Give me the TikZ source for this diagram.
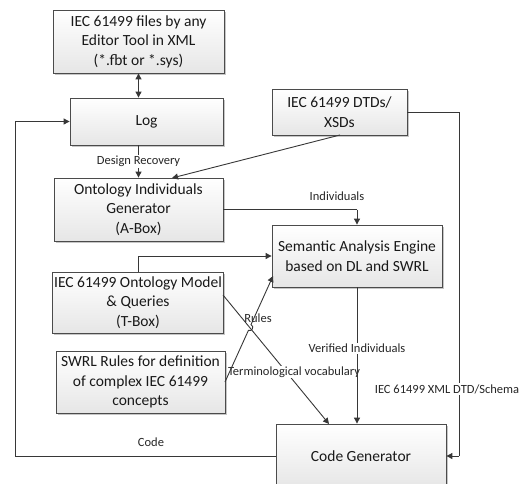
\documentclass[tikz,border=0pt]{standalone}
\usepackage{fontspec}
\setmainfont{Carlito}
\usetikzlibrary{arrows.meta,shadows}
\definecolor{linec}{RGB}{55,55,55}
\definecolor{boxbot}{RGB}{230,230,230}
\definecolor{boxdraw}{RGB}{75,75,75}
\tikzset{
  box/.style={draw=boxdraw, line width=0.8pt, top color=white, bottom color=boxbot,
    drop shadow={shadow xshift=1.6pt, shadow yshift=-1.6pt, fill=gray!45, opacity=1},
    align=center, inner sep=2pt, font=\fontsize{15.5}{19.5}\selectfont, text=black!90},
  conn/.style={draw=linec, line width=0.9pt},
  arr/.style={conn, -{Triangle[length=6pt,width=6pt]}},
  darr/.style={conn, {Triangle[length=6pt,width=6pt]}-{Triangle[length=6pt,width=6pt]}},
  lbl/.style={font=\fontsize{12.5}{14}\selectfont, fill=white, inner sep=1pt, text=black!85},
}
\begin{document}
\begin{tikzpicture}[x=1pt,y=-1pt]
\useasboundingbox (0,0) rectangle (527,483);
\node[box, minimum width=171pt, minimum height=63pt] (files) at (138.5,41.5) {IEC 61499 files by any\\Editor Tool in XML\\(*.fbt or *.sys)};
\node[box, minimum width=153pt, minimum height=47pt] (log) at (146.5,121.5) {Log};
\node[box, minimum width=135pt, minimum height=46pt] (dtd) at (339.5,112) {IEC 61499 DTDs/\\XSDs};
\node[box, minimum width=169pt, minimum height=63pt] (gen) at (138.5,209.5) {Ontology Individuals\\Generator\\(A-Box)};
\node[box, minimum width=170pt, minimum height=62pt] (sem) at (357,256) {Semantic Analysis Engine\\based on DL and SWRL};
\node[box, minimum width=170pt, minimum height=61pt] (onto) at (138,302.5) {IEC 61499 Ontology Model\\\& Queries\\(T-Box)};
\node[box, minimum width=169pt, minimum height=62pt] (swrl) at (140.5,382) {SWRL Rules for definition\\of complex IEC 61499\\concepts};
\node[box, minimum width=170pt, minimum height=64pt] (code) at (361,456) {Code Generator};

\coordinate (cl) at (15,456);
\coordinate (lt) at (15,121.5);
\coordinate (dr) at (459,112);
\coordinate (db) at (459,456);
\coordinate (gi) at (357,209.5);
\coordinate (ot) at (138,256);
\coordinate (dtdb) at (340,135);
\coordinate (gent) at (172,178);
\coordinate (swr) at (225,382);
\coordinate (semr) at (273,276);
\coordinate (ontr) at (223,295);
\coordinate (codet) at (329,424);
\coordinate (jb) at (248.4,330.4);
\coordinate (ja) at (251.0,324.6);
\coordinate (jc1) at (252.1,332.0);
\coordinate (jc2) at (254.7,326.3);

\draw[darr] (files.south) -- (files.south |- log.north);
\draw[arr] (gen.north |- log.south) -- node[lbl] {Design Recovery} (gen.north);
\draw[arr] (dtdb) -- (gent);
\draw[conn] (gen.east) -- (gi);
\draw[arr] (gi) -- (sem.north);
\node[lbl, fill=none] (indl) at (337,196) {Individuals};
\draw[conn] (onto.north) -- (ot);
\draw[arr] (ot) -- (ot -| sem.west);
\draw[arr] (ontr) -- (codet);
\node[lbl] (terml) at (294,372) {Terminological vocabulary};
\draw[arr] (swr) -- (jb) .. controls (jc1) and (jc2) .. (ja) -- (semr);
\node[lbl, fill=none] (rulesl) at (258,318) {Rules};
\draw[arr] (sem.south) -- node[lbl, pos=0.45] {Verified Individuals} (sem.south |- code.north);
\draw[conn] (code.west) -- (cl) -- (lt);
\draw[arr] (lt) -- (log.west);
\node[lbl, fill=none] (codel) at (151,442) {Code};
\draw[conn] (dtd.east) -- (dr) -- (db);
\draw[arr] (db) -- (code.east);
\node[lbl] (schemal) at (447,389) {IEC 61499 XML DTD/Schema};
\end{tikzpicture}
\end{document}
